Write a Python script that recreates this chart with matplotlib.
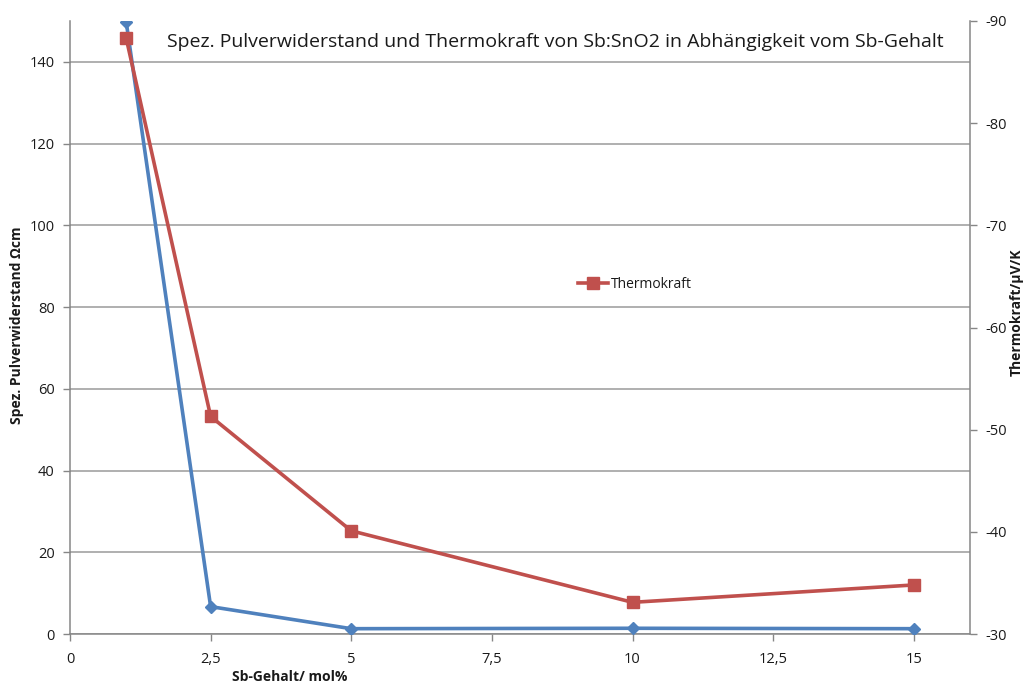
import matplotlib
matplotlib.use("Agg")
import matplotlib.pyplot as plt
from matplotlib.ticker import FixedLocator, FuncFormatter

plt.rcParams['font.family'] = ['Open Sans', 'DejaVu Sans']
plt.rcParams['axes.unicode_minus'] = False

# Sb content (mol%)
sb_content = [1, 2.5, 5, 10, 15]
# specific powder resistance (Ohm cm)
resistance = [149.7, 6.7, 1.3, 1.4, 1.3]
# thermopower (µV/K)
thermopower = [-88.3, -51.3, -40.1, -33.1, -34.8]

x_ticks = [0, 2.5, 5, 7.5, 10, 12.5, 15]
left_ticks = [0, 20, 40, 60, 80, 100, 120, 140]
right_ticks = [-30, -40, -50, -60, -70, -80, -90]

blue = '#4F81BD'
red = '#C0504D'
axis_grey = '#868686'
text_col = '#1a1a1a'

fig = plt.figure(figsize=(10.26, 6.83), dpi=100)
ax = fig.add_axes([70 / 1026, 1 - 634 / 683, 900 / 1026, 613 / 683])
ax2 = ax.twinx()

ax.plot(sb_content, resistance, color=blue, lw=2.6, marker='D', ms=6.5,
        mec=blue, mfc=blue, zorder=3, label='Spez. Pulverwiderstand')
ax2.plot(sb_content, thermopower, color=red, lw=2.6, marker='s', ms=8.5,
         mec=red, mfc=red, zorder=3, label='Thermokraft')

ax.set_xlim(0, 16)
ax.set_ylim(0, 150)
ax2.set_ylim(-30, -90)

ax.xaxis.set_major_locator(FixedLocator(x_ticks))
ax.xaxis.set_major_formatter(FuncFormatter(lambda v, p: f'{v:g}'.replace('.', ',')))
ax.yaxis.set_major_locator(FixedLocator(left_ticks))
ax2.yaxis.set_major_locator(FixedLocator(right_ticks))
ax2.yaxis.set_major_formatter(FuncFormatter(lambda v, p: f'{v:g}'))

ax.grid(axis='y', color='#9a9a9a', lw=1.1)
ax.set_axisbelow(True)

for a in (ax, ax2):
    a.spines['top'].set_visible(False)
    a.tick_params(colors=axis_grey, labelcolor=text_col, labelsize=10.5,
                  length=5, width=1)
ax.spines['right'].set_visible(False)
ax2.spines['left'].set_visible(False)
ax2.spines['bottom'].set_visible(False)
for s in (ax.spines['left'], ax.spines['bottom'], ax2.spines['right']):
    s.set_color(axis_grey)
    s.set_linewidth(1.1)
ax.tick_params(axis='x', pad=8)
ax.tick_params(axis='y', pad=6)
ax2.tick_params(axis='y', pad=6)

ax.text(0.539, 0.966, 'Spez. Pulverwiderstand und Thermokraft von Sb:SnO2 in Abhängigkeit vom Sb-Gehalt',
        transform=ax.transAxes, ha='center', va='center', fontsize=14.0, color=text_col)

fig.text(290 / 1026, 1 - 677 / 683, 'Sb-Gehalt/ mol%', ha='center', va='center',
         fontsize=10, fontweight='bold', color=text_col)
fig.text(17 / 1026, 1 - 325 / 683, 'Spez. Pulverwiderstand Ωcm', ha='center', va='center',
         rotation=90, fontsize=10, fontweight='bold', color=text_col)
fig.text(1017 / 1026, 1 - 312 / 683, 'Thermokraft/µV/K', ha='center', va='center',
         rotation=90, fontsize=10, fontweight='bold', color=text_col)

leg = ax2.legend(loc='center left', bbox_to_anchor=(572 / 1026, 1 - 284 / 683),
                 bbox_transform=fig.transFigure, frameon=False, fontsize=10,
                 handlelength=2.2, handletextpad=0.2, borderaxespad=0)
for t in leg.get_texts():
    t.set_color(text_col)

fig.savefig('out.png', dpi=100)
